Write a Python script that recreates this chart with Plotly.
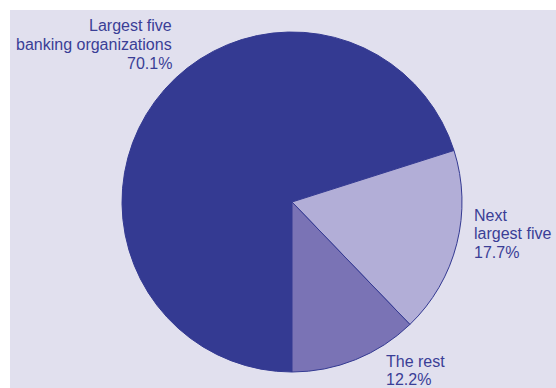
import plotly.graph_objects as go

# Share of banking assets
segments = ["Largest five banking organizations", "Next largest five", "The rest"]
shares = [70.1, 17.7, 12.2]
slice_colors = ["#343a92", "#b2aed7", "#7a73b5"]

# Label lines (name parts); the percentage line is built from the shares
label_lines = [["Largest five", "banking organizations"], ["Next", "largest five"], ["The rest"]]

W, H = 556, 388
PANEL = "#e1e0ee"
TEXT = "#3a3e96"

cx, cy, r = 292, 202, 170

fig = go.Figure(
    go.Pie(
        labels=segments,
        values=shares,
        sort=False,
        direction="clockwise",
        rotation=180,
        marker=dict(colors=slice_colors, line=dict(color="#343a92", width=1)),
        textinfo="none",
        hoverinfo="label+percent",
        showlegend=False,
        domain=dict(x=[(cx - r) / W, (cx + r) / W], y=[1 - (cy + r) / H, 1 - (cy - r) / H]),
    )
)

# Light panel behind the pie
fig.add_shape(type="rect", xref="paper", yref="paper", x0=10 / W, x1=1, y0=0, y1=1 - 10 / H,
              fillcolor=PANEL, line=dict(width=0), layer="below")

# Label placement: (x, first line centre y, x anchor)
placements = [(174, 26, "right"), (472, 215, "left"), (384, 361, "left")]
line_step = 18.8

for lines, share, (x, y0, anchor) in zip(label_lines, shares, placements):
    for i, t in enumerate(lines + [f"{share:.1f}%"]):
        fig.add_annotation(
            x=x / W, y=1 - (y0 + i * line_step) / H, xref="paper", yref="paper",
            text=t, showarrow=False, xanchor=anchor, yanchor="middle",
            align=anchor, font=dict(family="Liberation Sans, Arial, sans-serif", size=16, color=TEXT),
        )

fig.update_layout(
    width=W, height=H,
    margin=dict(l=0, r=0, t=0, b=0),
    paper_bgcolor="white",
    plot_bgcolor="white",
)

fig.write_html("out.html")
